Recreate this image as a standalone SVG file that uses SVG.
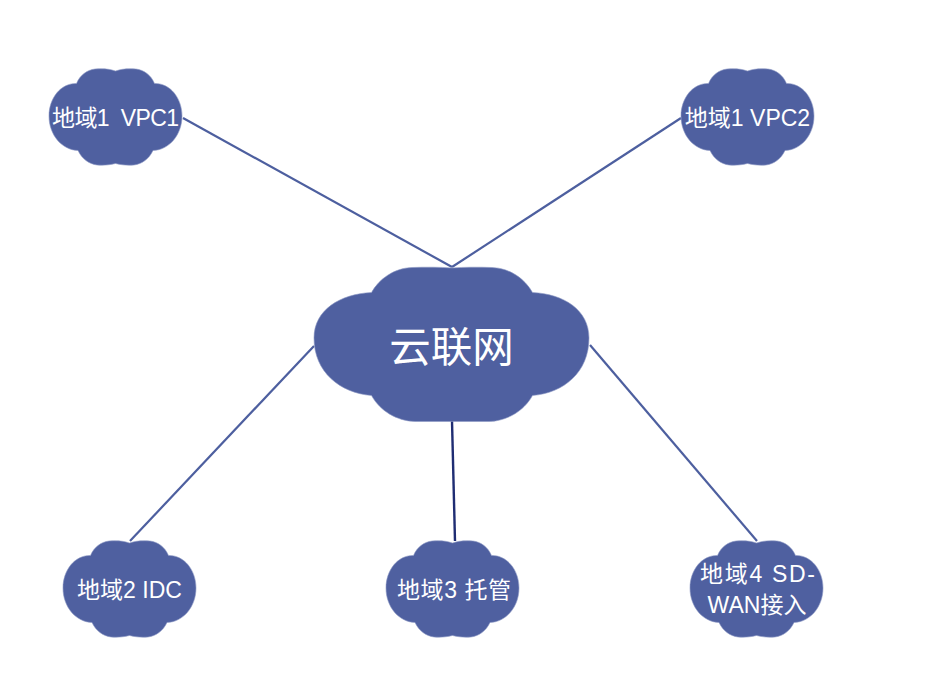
<svg xmlns="http://www.w3.org/2000/svg" width="938" height="700" viewBox="0 0 938 700">
<style>
.line{stroke:#4d5f9f;stroke-width:2.2;fill:none}
.dark{stroke:#1f2d73;stroke-width:2.4;fill:none}
.cloud{fill:#4f60a0;stroke:#8d99c4;stroke-width:.6}
text{fill:#fff;font-family:"Liberation Sans","Noto Sans CJK SC",sans-serif;text-anchor:middle}
.s{font-size:23px}
.b{font-size:41.500px}
</style>
<defs>
<path id="small" d="M66.500 2C60 -.5 52 -.5 46 0C38 1 31 6 27.500 14.500C12 14 0 29 0 47C0 66 13 81 29 81.500C33 90 40 95 48 96C54 96.500 61 96 66.500 94.500C72 96 79 96.500 85 96C93 95 100 90 104 81.500C120 81 133 66 133 47C133 29 121 14 105.500 14.500C102 6 95 1 87 0C81 -.5 73 -.5 66.500 2Z"/>
</defs>
<rect width="938" height="700" fill="#fff"/>
<g id="connectors">
<line class="line" x1="183" y1="118" x2="452" y2="267"/>
<line class="line" x1="681" y1="118" x2="452" y2="267"/>
<line class="line" x1="314" y1="346" x2="130" y2="541"/>
<line class="dark" x1="452" y1="421" x2="455" y2="541"/>
<line class="line" x1="590" y1="345" x2="757" y2="541"/>
</g>
<g id="node-center">
<path class="cloud" d="M452 268C440 267 425 267 412 267.500C394 268 379 279 371.500 292.500C340 294 314 310 314 338C314 372 340 393 371.500 395.500C380 411 397 421 415 421.500L489 421.500C507 421 524 411 532.500 395.500C564 393 589 372 589 338C589 310 564 294 532.500 292.500C525 279 510 268 492 267.500C479 267 464 267 452 268Z"/>
<text class="b" x="451.500" y="362">云联网</text>
</g>
<g id="node-vpc1">
<use href="#small" class="cloud" x="49" y="69"/>
<text class="s" x="115.500" y="126" xml:space="preserve" textLength="127">地域1  VPC1</text>
</g>
<g id="node-vpc2">
<use href="#small" class="cloud" x="681" y="69"/>
<text class="s" x="747.500" y="126">地域1 VPC2</text>
</g>
<g id="node-idc">
<use href="#small" class="cloud" x="63" y="541"/>
<text class="s" x="129.500" y="598">地域2 IDC</text>
</g>
<g id="node-hosting">
<use href="#small" class="cloud" x="386" y="541"/>
<text class="s" x="454" y="598" textLength="114">地域3 托管</text>
</g>
<g id="node-sdwan">
<use href="#small" class="cloud" x="690" y="541"/>
<text class="s" x="757.500" y="582" textLength="115">地域4 SD-</text>
<text class="s" x="757" y="613">WAN接入</text>
</g>
</svg>
